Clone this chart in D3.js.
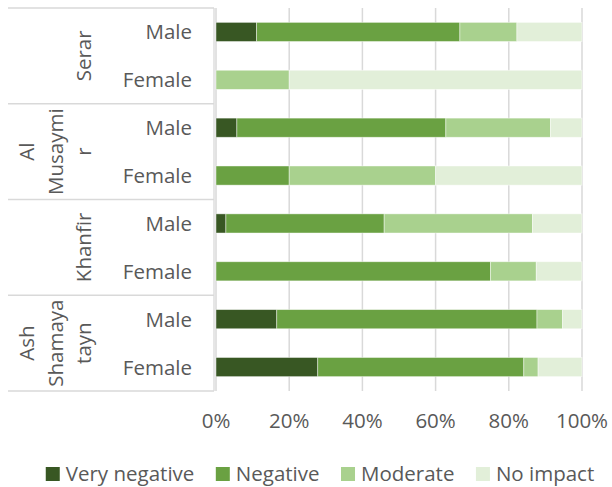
<!DOCTYPE html>
<html>
<head>
<meta charset="utf-8">
<script src="https://cdn.jsdelivr.net/npm/d3@7"></script>
<style>
  html, body { margin: 0; padding: 0; background: #fff; }
  svg { display: block; font-family: "Open Sans", sans-serif; }
</style>
</head>
<body>
<svg id="chart" width="612" height="487"></svg>
<script>
// Districts (outer category) and respondent sex (inner category)
const districts = ["Serar", "Al Musaymir", "Khanfir", "Ash Shamayatayn"];
const districtLabelLines = [["Serar"], ["Al", "Musaymi", "r"], ["Khanfir"], ["Ash", "Shamaya", "tayn"]];
const sexes = ["Male", "Female"];

// Share of respondents per impact level (%), rows ordered district by district, Male then Female
const veryNegative = [11.1, 0, 5.7, 0, 2.7, 0, 16.6, 27.8];
const negative     = [55.6, 0, 57.1, 20, 43.2, 75, 71.1, 56.3];
const moderate     = [15.6, 20, 28.6, 40, 40.5, 12.5, 7.0, 3.9];
const noImpact     = [17.8, 80, 8.6, 40, 13.5, 12.5, 5.3, 12.0];

const seriesNames = ["Very negative", "Negative", "Moderate", "No impact"];
const seriesColors = ["#385723", "#6aa142", "#a9d18e", "#e2efd9"];
const tickValues = [0, 0.2, 0.4, 0.6, 0.8, 1];

const textColor = "#595959";
const lineColor = "#d9d9d9";
const fontSize = 20.5;

// Build row records
const rows = [];
districts.forEach((d, gi) => {
  sexes.forEach((s, si) => {
    const i = gi * sexes.length + si;
    rows.push({
      id: d + "|" + s, district: d, sex: s,
      "Very negative": veryNegative[i],
      "Negative": negative[i],
      "Moderate": moderate[i],
      "No impact": noImpact[i]
    });
  });
});

const svg = d3.select("#chart");
const plot = { left: 216, right: 582, top: 8, bottom: 391 };
const labelLeft = 8;

const x = d3.scaleLinear().domain([0, 1]).range([plot.left, plot.right]);
const y = d3.scaleBand().domain(rows.map(r => r.id))
  .range([plot.top, plot.bottom]).paddingInner(0.6).paddingOuter(0.3);
const rowStep = y.step();

// Vertical gridlines
svg.append("g").selectAll("line").data(tickValues).join("line")
  .attr("x1", d => x(d)).attr("x2", d => x(d))
  .attr("y1", plot.top).attr("y2", plot.bottom)
  .attr("stroke", lineColor).attr("stroke-width", 1.5);

// 100% stacked bars
const stack = d3.stack().keys(seriesNames).offset(d3.stackOffsetExpand);
const stacked = stack(rows);

svg.append("g").selectAll("g").data(stacked).join("g")
  .attr("fill", (d, i) => seriesColors[i])
  .selectAll("rect").data(d => d).join("rect")
  .attr("x", d => x(d[0]))
  .attr("width", d => Math.max(0, x(d[1]) - x(d[0])))
  .attr("y", d => y(d.data.id))
  .attr("height", y.bandwidth())
  .attr("stroke", "#ffffff").attr("stroke-opacity", 0.55).attr("stroke-width", 0.8);

// Category axis: vertical line plus group separators
const axisG = svg.append("g");
axisG.append("line")
  .attr("x1", plot.left - 2).attr("x2", plot.left - 2)
  .attr("y1", plot.top).attr("y2", plot.bottom)
  .attr("stroke", lineColor).attr("stroke-width", 1.3);
const groupSize = sexes.length;
const separators = d3.range(districts.length + 1).map(k =>
  k === districts.length ? plot.bottom : y(rows[k * groupSize].id) - rowStep * 0.3);
axisG.selectAll("line.sep").data(separators).join("line").attr("class", "sep")
  .attr("x1", labelLeft).attr("x2", plot.left - 2)
  .attr("y1", d => d).attr("y2", d => d)
  .attr("stroke", lineColor).attr("stroke-width", 1.3);

// Inner labels (Male / Female)
svg.append("g").selectAll("text").data(rows).join("text")
  .attr("x", 192)
  .attr("y", d => y(d.id) + y.bandwidth() / 2 + 7.5)
  .attr("text-anchor", "end")
  .attr("fill", textColor).attr("font-size", fontSize)
  .text(d => d.sex);

// Outer labels (districts), rotated, wrapped lines
const lineGap = 28.5;
const groupG = svg.append("g");
districts.forEach((d, gi) => {
  const cy = (separators[gi] + separators[gi + 1]) / 2;
  const lines = districtLabelLines[gi];
  lines.forEach((ln, li) => {
    const bx = 91 - (lines.length - 1 - li) * lineGap;
    groupG.append("text")
      .attr("transform", `translate(${bx},${cy}) rotate(-90)`)
      .attr("text-anchor", "middle")
      .attr("fill", textColor).attr("font-size", fontSize)
      .text(ln);
  });
});

// Value axis tick labels
svg.append("g").selectAll("text").data(tickValues).join("text")
  .attr("x", d => x(d)).attr("y", 428)
  .attr("text-anchor", "middle")
  .attr("fill", textColor).attr("font-size", fontSize)
  .text(d3.format(".0%"));

// Legend, centred under the chart
const legend = svg.append("g");
const sw = 14, swGap = 6, itemGap = 21.5;
const items = seriesNames.map((name, i) => {
  const g = legend.append("g");
  g.append("rect").attr("width", sw).attr("height", sw).attr("y", -14).attr("fill", seriesColors[i]);
  const t = g.append("text").attr("x", sw + swGap).attr("fill", textColor)
    .attr("font-size", fontSize).text(name);
  return { g, w: sw + swGap + t.node().getComputedTextLength() };
});
const totalW = d3.sum(items, d => d.w) + itemGap * (items.length - 1);
let lx = 320 - totalW / 2;
items.forEach(it => {
  it.g.attr("transform", `translate(${lx},481)`);
  lx += it.w + itemGap;
});
</script>
</body>
</html>
